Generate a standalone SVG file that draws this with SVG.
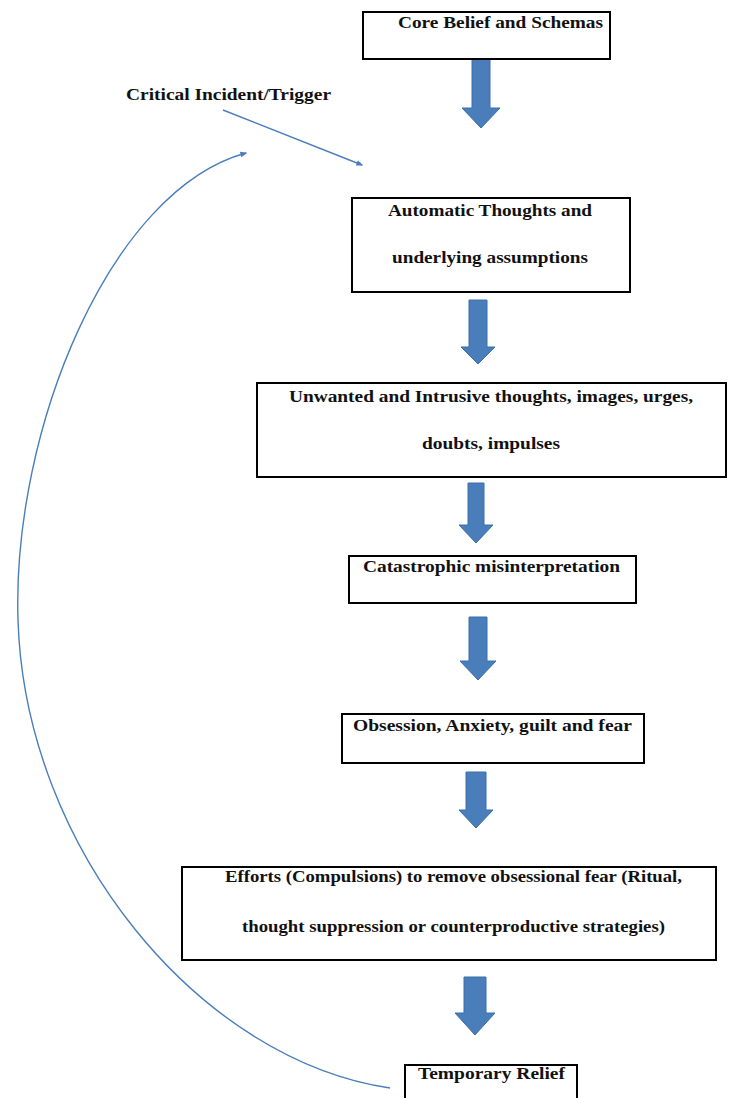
<svg xmlns="http://www.w3.org/2000/svg" width="733" height="1098" viewBox="0 0 733 1098">
  <style>
    .box { fill: #ffffff; stroke: #000000; stroke-width: 2; }
    .lbl { font-family: "Liberation Serif", "Times New Roman", serif; font-weight: bold; font-size: 16px; fill: #111111; }
    .flow { fill: #4a7ebb; stroke: #3b6ea8; stroke-width: 1; }
    .thin { fill: none; stroke: #4a7ebb; stroke-width: 1.4; }
  </style>
  <defs>
    <marker id="tip" viewBox="0 0 10 10" refX="8" refY="5" markerWidth="7" markerHeight="7" markerUnits="userSpaceOnUse" orient="auto">
      <path d="M0,1 L10,5 L0,9 Z" fill="#4a7ebb"/>
    </marker>
  </defs>
  <rect width="733" height="1098" fill="#ffffff"/>

  <!-- block arrows and thin connectors -->
  <g id="connectors">
    <polygon class="flow" points="472,59 490,59 490,108 500,108 481,128 462,108 472,108"/>
    <polygon class="flow" points="469,300 487,300 487,347 495,347 478,364 461,347 469,347"/>
    <polygon class="flow" points="468,483 484,483 484,525 493,525 476,543 459,525 468,525"/>
    <polygon class="flow" points="469,617 487,617 487,661 496,661 478,680 460,661 469,661"/>
    <polygon class="flow" points="466,772 486,772 486,810 493,810 476,828 459,810 466,810"/>
    <polygon class="flow" points="464,977 486,977 486,1013 495,1013 475,1035 455,1013 464,1013"/>
    <line class="thin" x1="223" y1="110" x2="362" y2="165" marker-end="url(#tip)"/>
    <path class="thin" d="M390,1088 C200,1060 25,850 18,620 C12,430 110,190 246,153" marker-end="url(#tip)"/>
  </g>

  <g id="trigger">
    <text class="lbl" x="126" y="100" textLength="205" lengthAdjust="spacingAndGlyphs">Critical Incident/Trigger</text>
  </g>

  <g id="core-belief">
    <rect class="box" x="363" y="12" width="247" height="47"/>
    <text class="lbl" x="398" y="28" textLength="205" lengthAdjust="spacingAndGlyphs">Core Belief and Schemas</text>
  </g>

  <g id="automatic-thoughts">
    <rect class="box" x="352" y="198" width="278" height="94"/>
    <text class="lbl" x="388" y="216" textLength="204" lengthAdjust="spacingAndGlyphs">Automatic Thoughts and</text>
    <text class="lbl" x="392" y="263" textLength="196" lengthAdjust="spacingAndGlyphs">underlying assumptions</text>
  </g>

  <g id="intrusive-thoughts">
    <rect class="box" x="257" y="383" width="469" height="94"/>
    <text class="lbl" x="289" y="402" textLength="404" lengthAdjust="spacingAndGlyphs">Unwanted and Intrusive thoughts, images, urges,</text>
    <text class="lbl" x="422" y="449" textLength="138" lengthAdjust="spacingAndGlyphs">doubts, impulses</text>
  </g>

  <g id="misinterpretation">
    <rect class="box" x="349" y="556" width="287" height="47"/>
    <text class="lbl" x="363" y="572" textLength="257" lengthAdjust="spacingAndGlyphs">Catastrophic misinterpretation</text>
  </g>

  <g id="obsession">
    <rect class="box" x="342" y="714" width="302" height="49"/>
    <text class="lbl" x="353" y="731" textLength="279" lengthAdjust="spacingAndGlyphs">Obsession, Anxiety, guilt and fear</text>
  </g>

  <g id="compulsions">
    <rect class="box" x="182" y="867" width="534" height="93"/>
    <text class="lbl" x="225" y="882" textLength="457" lengthAdjust="spacingAndGlyphs">Efforts (Compulsions) to remove obsessional fear (Ritual,</text>
    <text class="lbl" x="242" y="932" textLength="423" lengthAdjust="spacingAndGlyphs">thought suppression or counterproductive strategies)</text>
  </g>

  <g id="temporary-relief">
    <rect class="box" x="405" y="1065" width="172" height="40"/>
    <text class="lbl" x="418" y="1079" textLength="147" lengthAdjust="spacingAndGlyphs">Temporary Relief</text>
  </g>
</svg>
